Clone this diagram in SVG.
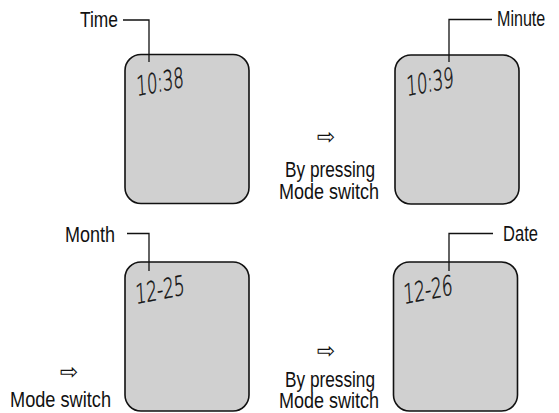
<svg xmlns="http://www.w3.org/2000/svg" width="559" height="413" viewBox="0 0 559 413">
<style>
.lcd{fill:#d0d0d0;stroke:#111;stroke-width:1.6}
.dig{font-family:"DejaVu Sans",sans-serif;font-weight:200;font-size:27px;fill:#111;stroke:#111;stroke-width:0.5}
.lbl{font-family:"Liberation Sans",Arial,sans-serif;font-size:22.5px;fill:#111}
.arr{font-family:"DejaVu Sans",sans-serif;font-size:22px;fill:#111;text-anchor:middle}
.lead{fill:none;stroke:#111;stroke-width:1.3}
</style>
<rect width="559" height="413" fill="#fff"/>
<g id="time-display">
<rect class="lcd" x="125" y="54.5" width="124" height="149" rx="16"/>
<text class="dig" transform="translate(137,96) rotate(-11) skewX(-8)" textLength="48" lengthAdjust="spacingAndGlyphs">10:38</text>
<text class="lbl" x="80" y="27" textLength="38" lengthAdjust="spacingAndGlyphs">Time</text>
</g>
<g id="minute-display">
<rect class="lcd" x="395" y="55" width="124" height="149" rx="16"/>
<text class="dig" transform="translate(407,96) rotate(-11) skewX(-8)" textLength="48" lengthAdjust="spacingAndGlyphs">10:39</text>
<text class="lbl" transform="translate(497,26) scale(0.715,1)">Minute</text>
</g>
<g id="month-display">
<rect class="lcd" x="125" y="262" width="124" height="149" rx="16"/>
<text class="dig" transform="translate(136,304) rotate(-11) skewX(-8)" textLength="50" lengthAdjust="spacingAndGlyphs">12-25</text>
<text class="lbl" x="65" y="242" textLength="50" lengthAdjust="spacingAndGlyphs">Month</text>
</g>
<g id="date-display">
<rect class="lcd" x="393.5" y="262" width="124" height="149" rx="16"/>
<text class="dig" transform="translate(404,304) rotate(-11) skewX(-8)" textLength="50" lengthAdjust="spacingAndGlyphs">12-26</text>
<text class="lbl" transform="translate(503,241) scale(0.735,1)">Date</text>
</g>
<g id="step1">
<text class="arr" x="326" y="144">⇨</text>
<text class="lbl" x="285" y="177" textLength="90" lengthAdjust="spacingAndGlyphs">By pressing</text>
<text class="lbl" x="279" y="198.5" textLength="100" lengthAdjust="spacingAndGlyphs">Mode switch</text>
</g>
<g id="step2">
<text class="arr" x="69" y="379">⇨</text>
<text class="lbl" x="10" y="407" textLength="101" lengthAdjust="spacingAndGlyphs">Mode switch</text>
</g>
<g id="step3">
<text class="arr" x="326" y="358">⇨</text>
<text class="lbl" x="285" y="386.5" textLength="90" lengthAdjust="spacingAndGlyphs">By pressing</text>
<text class="lbl" x="279" y="408" textLength="100" lengthAdjust="spacingAndGlyphs">Mode switch</text>
</g>
<g id="connectors">
<polyline class="lead" points="123,20 149,20 149,62"/>
<polyline class="lead" points="492,19.5 449,19.5 449,62"/>
<polyline class="lead" points="127,233.5 149,233.5 149,271"/>
<polyline class="lead" points="493,233.5 449,233.5 449,271"/>
</g>
</svg>
